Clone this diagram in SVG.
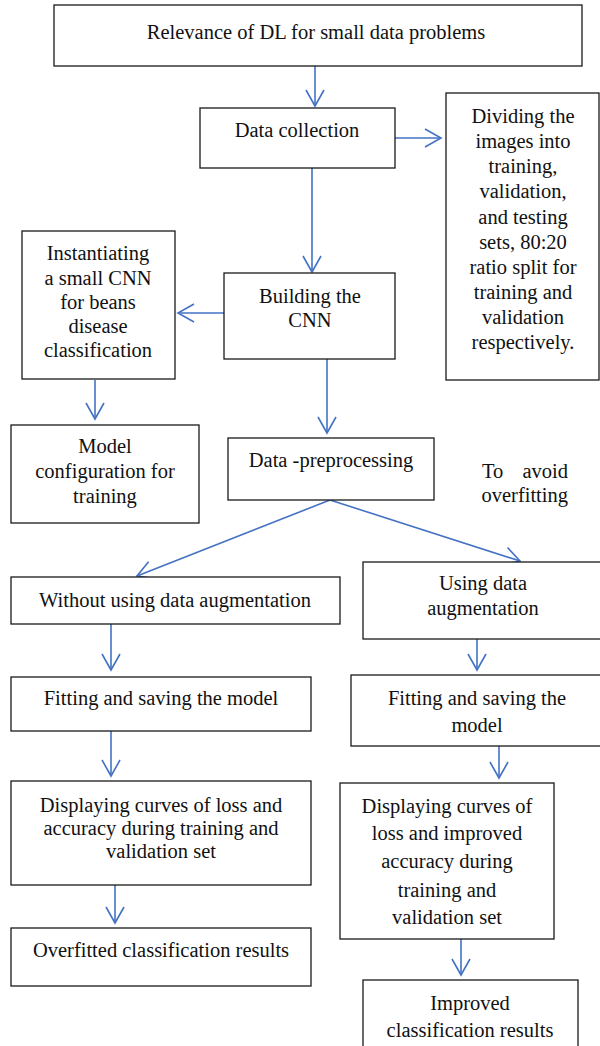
<svg xmlns="http://www.w3.org/2000/svg" width="600" height="1046" viewBox="0 0 600 1046">
<style>
.b{fill:#fff;stroke:#1a1a1a;stroke-width:1.3}
.t{font-family:"Liberation Serif","Times New Roman",serif;font-size:20.5px;fill:#111;text-anchor:middle}
.c{fill:none;stroke:#4472C4;stroke-width:1.6}
</style>
<defs>
<marker id="a" markerUnits="userSpaceOnUse" markerWidth="22" markerHeight="24" viewBox="-19 -12 22 24" refX="0" refY="0" orient="auto">
<path d="M-16,-9 L0,0 L-16,9" fill="none" stroke="#4472C4" stroke-width="1.6"/>
</marker>
</defs>
<rect width="600" height="1046" fill="#fff"/>
<g id="connectors">
<line class="c" x1="315" y1="66" x2="315" y2="106" marker-end="url(#a)"/>
<line class="c" x1="395" y1="138" x2="441" y2="138" marker-end="url(#a)"/>
<line class="c" x1="312" y1="168" x2="312" y2="272" marker-end="url(#a)"/>
<line class="c" x1="224" y1="313" x2="178" y2="313" marker-end="url(#a)"/>
<line class="c" x1="95" y1="380" x2="95" y2="419" marker-end="url(#a)"/>
<line class="c" x1="327" y1="359" x2="327" y2="433" marker-end="url(#a)"/>
<line class="c" x1="330" y1="500" x2="137" y2="576" marker-end="url(#a)"/>
<line class="c" x1="330" y1="500" x2="520" y2="561" marker-end="url(#a)"/>
<line class="c" x1="111" y1="624" x2="111" y2="670" marker-end="url(#a)"/>
<line class="c" x1="477" y1="639" x2="477" y2="670" marker-end="url(#a)"/>
<line class="c" x1="111" y1="731" x2="111" y2="776" marker-end="url(#a)"/>
<line class="c" x1="499" y1="746" x2="499" y2="778" marker-end="url(#a)"/>
<line class="c" x1="115" y1="885" x2="115" y2="923" marker-end="url(#a)"/>
<line class="c" x1="461" y1="939" x2="461" y2="975" marker-end="url(#a)"/>
</g>
<g id="relevance">
<rect class="b" x="54" y="5" width="528" height="61"/>
<text class="t" x="316" y="39">Relevance of DL for small data problems</text>
</g>
<g id="data-collection">
<rect class="b" x="200" y="108" width="195" height="60"/>
<text class="t" x="297" y="137">Data collection</text>
</g>
<g id="dividing">
<rect class="b" x="446" y="93" width="153" height="287"/>
<text class="t" x="523" y="123">Dividing the</text>
<text class="t" x="523" y="148">images into</text>
<text class="t" x="523" y="173">training,</text>
<text class="t" x="523" y="198">validation,</text>
<text class="t" x="523" y="224">and testing</text>
<text class="t" x="523" y="249">sets, 80:20</text>
<text class="t" x="523" y="274">ratio split for</text>
<text class="t" x="523" y="299">training and</text>
<text class="t" x="523" y="324">validation</text>
<text class="t" x="523" y="349">respectively.</text>
</g>
<g id="instantiating">
<rect class="b" x="22" y="231" width="153" height="148"/>
<text class="t" x="98" y="260">Instantiating</text>
<text class="t" x="98" y="285">a small CNN</text>
<text class="t" x="98" y="309">for beans</text>
<text class="t" x="98" y="333">disease</text>
<text class="t" x="98" y="357">classification</text>
</g>
<g id="building">
<rect class="b" x="224" y="273" width="171" height="86"/>
<text class="t" x="310" y="303">Building the</text>
<text class="t" x="310" y="327">CNN</text>
</g>
<g id="model-config">
<rect class="b" x="11" y="425" width="188" height="98"/>
<text class="t" x="105" y="453">Model</text>
<text class="t" x="105" y="478">configuration for</text>
<text class="t" x="105" y="503">training</text>
</g>
<g id="preprocessing">
<rect class="b" x="228" y="438" width="206" height="62"/>
<text class="t" x="331" y="467">Data -preprocessing</text>
</g>
<g id="note">
<text class="t" x="482" y="478" style="text-anchor:start">To</text>
<text class="t" x="568" y="478" style="text-anchor:end">avoid</text>
<text class="t" x="568" y="502" style="text-anchor:end">overfitting</text>
</g>
<g id="without">
<rect class="b" x="11" y="577" width="329" height="47"/>
<text class="t" x="175" y="607">Without using data augmentation</text>
</g>
<g id="using">
<rect class="b" x="363" y="562" width="240" height="77"/>
<text class="t" x="483" y="590">Using data</text>
<text class="t" x="483" y="615">augmentation</text>
</g>
<g id="fitting-left">
<rect class="b" x="11" y="677" width="300" height="54"/>
<text class="t" x="161" y="705">Fitting and saving the model</text>
</g>
<g id="fitting-right">
<rect class="b" x="351" y="675" width="252" height="71"/>
<text class="t" x="477" y="705">Fitting and saving the</text>
<text class="t" x="477" y="732">model</text>
</g>
<g id="displaying-left">
<rect class="b" x="11" y="781" width="300" height="104"/>
<text class="t" x="161" y="812">Displaying curves of loss and</text>
<text class="t" x="161" y="835">accuracy during training and</text>
<text class="t" x="161" y="858">validation set</text>
</g>
<g id="displaying-right">
<rect class="b" x="340" y="783" width="214" height="156"/>
<text class="t" x="447" y="813">Displaying curves of</text>
<text class="t" x="447" y="840">loss and improved</text>
<text class="t" x="447" y="868">accuracy during</text>
<text class="t" x="447" y="897">training and</text>
<text class="t" x="447" y="924">validation set</text>
</g>
<g id="overfitted">
<rect class="b" x="11" y="928" width="300" height="58"/>
<text class="t" x="161" y="957">Overfitted classification results</text>
</g>
<g id="improved">
<rect class="b" x="363" y="980" width="215" height="80"/>
<text class="t" x="470" y="1010">Improved</text>
<text class="t" x="470" y="1037">classification results</text>
</g>
</svg>
